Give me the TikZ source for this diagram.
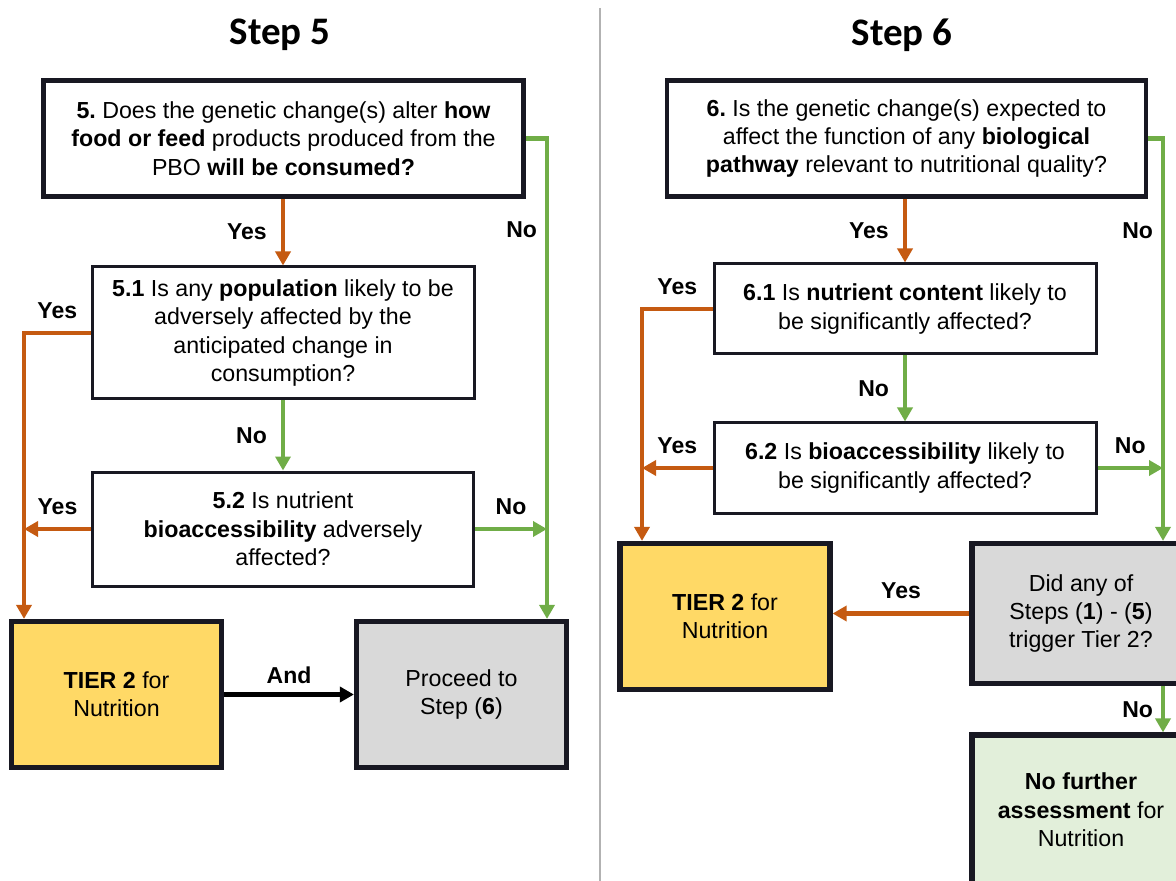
\documentclass[tikz,border=0pt]{standalone}
\usepackage{fontspec}
\setmainfont{Liberation Sans}
\newfontfamily\titlefont{Carlito}
\usetikzlibrary{arrows.meta}
\frenchspacing

\definecolor{yesorange}{HTML}{C55A11}
\definecolor{nogreen}{HTML}{70AD47}
\definecolor{tieryellow}{HTML}{FFD966}
\definecolor{stepgray}{HTML}{D9D9D9}
\definecolor{donegreen}{HTML}{E2EFDA}
\definecolor{boxline}{HTML}{181822}

\tikzset{
  qbox/.style={draw=boxline, line width=1.5pt, fill=white, align=center, inner sep=0pt,
    font=\fontsize{11.6}{14.2}\selectfont},
  headbox/.style={qbox, line width=2.4pt},
  endbox/.style={qbox, line width=2.6pt},
  yesline/.style={draw=yesorange, line width=2.3pt, -{Triangle[width=7.5pt,length=7pt]}},
  noline/.style={draw=nogreen, line width=2.1pt, -{Triangle[width=7.5pt,length=7pt]}},
  andline/.style={draw=black, line width=2.3pt, -{Triangle[width=7.5pt,length=7pt]}},
  lbl/.style={font=\fontsize{11.5}{13}\selectfont\bfseries, inner sep=1pt},
  steptitle/.style={font=\titlefont\fontsize{19.5}{22}\selectfont\bfseries}
}

\begin{document}
\begin{tikzpicture}[x=0.5pt,y=-0.5pt]
\useasboundingbox (0,0) rectangle (1176,881);
\clip (0,0) rectangle (1176,881);

% divider and titles
\draw[black!30, line width=0.8pt] (600,8) -- (600,881);
\node[steptitle] (title5) at (280,35) {Step 5};
\node[steptitle] (title6) at (902,35) {Step 6};

% step 5
\node[headbox, minimum width=240pt, minimum height=58pt] (b5) at (283.5,138.5)
  {\textbf{5.} Does the genetic change(s) alter \textbf{how}\\
   \textbf{food or feed} products produced from the\\
   PBO \textbf{will be consumed?}};
\node[qbox, minimum width=191pt, minimum height=66pt] (b51) at (283,333)
  {\textbf{5.1} Is any \textbf{population} likely to be\\
   adversely affected by the\\
   anticipated change in\\
   consumption?};
\node[qbox, minimum width=190.5pt, minimum height=57pt] (b52) at (283,529)
  {\textbf{5.2} Is nutrient\\
   \textbf{bioaccessibility} adversely\\
   affected?};
\node[endbox, fill=tieryellow, minimum width=105pt, minimum height=73pt] (tier5) at (116.5,694.5)
  {\textbf{TIER 2} for\\ Nutrition};
\node[endbox, fill=stepgray, minimum width=105pt, minimum height=73pt] (proc5) at (461.5,694.5)
  {Proceed to\\ Step (\textbf{6})};

\coordinate (lrail5) at (24,0);
\coordinate (rail5) at (547,0);

\draw[yesline] (b5.south -| b51.north) -- node[lbl, left=6pt] {Yes} (b51.north);
\draw[noline] (b51.south) -- node[lbl, left=6pt] {No} (b52.north);
\draw[yesline] (b51.west) -- node[lbl, above=5pt] {Yes} (b51.west -| lrail5) -- (tier5.north -| lrail5);
\draw[yesline] (b52.west) -- node[lbl, above=5pt] {Yes} (b52.west -| lrail5);
\draw[noline] (b5.east) -- (b5.east -| rail5) -- node[lbl, pos=0.19, left=3pt] {No} (proc5.north -| rail5);
\draw[noline] (b52.east) -- node[lbl, above=5pt] {No} (b52.east -| rail5);
\draw[andline] (tier5.east) -- node[lbl, above=3pt] {And} (proc5.west);

% step 6
\node[headbox, minimum width=239.5pt, minimum height=58pt] (b6) at (906.5,138.5)
  {\textbf{6.} Is the genetic change(s) expected to\\
   affect the function of any \textbf{biological}\\
   \textbf{pathway} relevant to nutritional quality?};
\node[qbox, minimum width=191pt, minimum height=45pt] (b61) at (905,309)
  {\textbf{6.1} Is \textbf{nutrient content} likely to\\
   be significantly affected?};
\node[qbox, minimum width=191pt, minimum height=45pt] (b62) at (905,468)
  {\textbf{6.2} Is \textbf{bioaccessibility} likely to\\
   be significantly affected?};
\node[endbox, fill=tieryellow, minimum width=105pt, minimum height=73pt] (tier6) at (725,616.5)
  {\textbf{TIER 2} for\\ Nutrition};
\node[endbox, fill=stepgray, minimum width=109pt, minimum height=70pt] (did6) at (1081,613.5)
  {Did any of\\ Steps (\textbf{1}) - (\textbf{5})\\ trigger Tier 2?};
\node[endbox, fill=donegreen, minimum width=109pt, minimum height=75pt] (done6) at (1081,810)
  {\textbf{No further}\\ \textbf{assessment} for\\ Nutrition};

\coordinate (lrail6) at (642,0);
\coordinate (rail6) at (1163,0);

\draw[yesline] (b6.south -| b61.north) -- node[lbl, left=6pt] {Yes} (b61.north);
\draw[noline] (b61.south) -- node[lbl, left=6pt] {No} (b62.north);
\draw[yesline] (b61.west) -- node[lbl, above=5pt] {Yes} (b61.west -| lrail6) -- (tier6.north -| lrail6);
\draw[yesline] (b62.west) -- node[lbl, above=5pt] {Yes} (b62.west -| lrail6);
\draw[noline] (b6.east) -- (b6.east -| rail6) -- node[lbl, pos=0.23, left=3pt] {No} (did6.north -| rail6);
\draw[noline] (b62.east) -- node[lbl, above=5pt] {No} (b62.east -| rail6);
\draw[yesline] (did6.west) -- node[lbl, above=5pt] {Yes} (did6.west -| tier6.east);
\draw[noline] (did6.south -| rail6) -- node[lbl, left=3pt] {No} (done6.north -| rail6);
\end{tikzpicture}
\end{document}
